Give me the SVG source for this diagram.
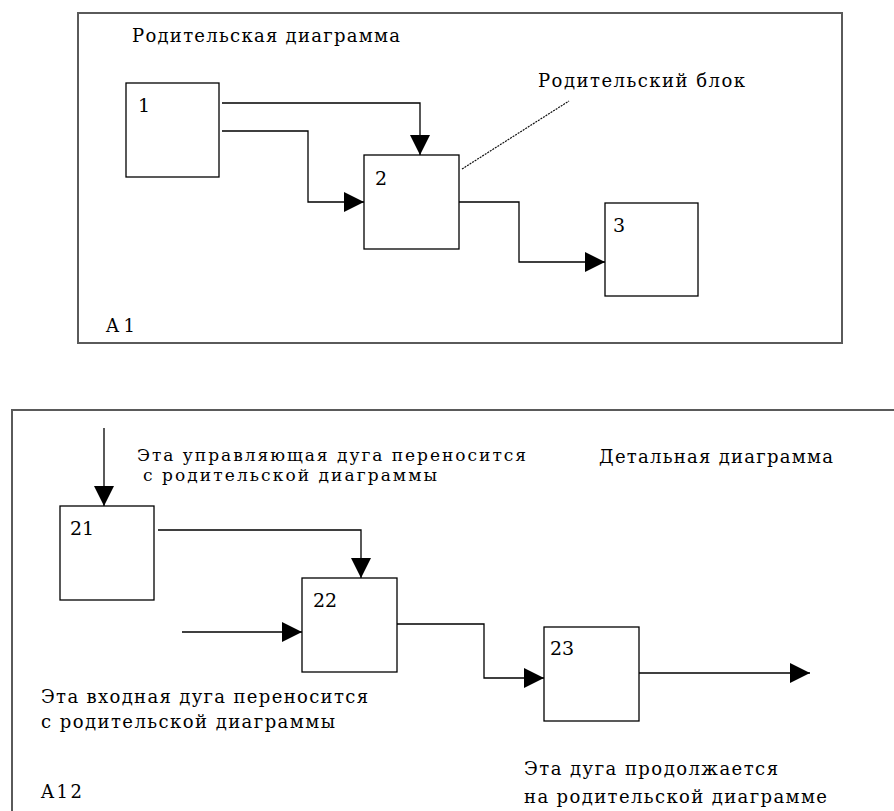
<svg xmlns="http://www.w3.org/2000/svg" width="894" height="811" viewBox="0 0 894 811">
<style>
.frame{fill:none;stroke:#5a5a5a;stroke-width:2}
.box{fill:#fff;stroke:#000;stroke-width:1.3}
.arc{fill:none;stroke:#000;stroke-width:1.3}
.lead{fill:none;stroke:#111;stroke-width:1.2;stroke-dasharray:2 1}
text{font-family:"DejaVu Serif","Liberation Serif",serif;font-size:18px;fill:#000}
.num{font-size:19px}
.tight{font-size:17px}
</style>
<defs>
<marker id="ah" viewBox="0 0 20 20" refX="20" refY="10" markerWidth="20" markerHeight="20" markerUnits="userSpaceOnUse" orient="auto">
<path d="M0,0 L20,10 L0,20 z" fill="#000"/>
</marker>
</defs>
<rect width="894" height="811" fill="#fff"/>
<g id="parent-frame">
<rect class="frame" x="78" y="13" width="764" height="330"/>
<text x="132" y="42" textLength="268" lengthAdjust="spacing">Родительская диаграмма</text>
<text x="106" y="332" textLength="29" lengthAdjust="spacing">A1</text>
<text x="538" y="87" textLength="207" lengthAdjust="spacing">Родительский блок</text>
</g>
<g id="detail-frame">
<path class="frame" d="M12,811 V410 H894"/>
<text x="599" y="463" textLength="234" lengthAdjust="spacing">Детальная диаграмма</text>
<text x="41" y="798" textLength="41" lengthAdjust="spacing">A12</text>
<text class="tight" x="137" y="461" textLength="389" lengthAdjust="spacing">Эта управляющая дуга переносится</text>
<text class="tight" x="143" y="481" textLength="294" lengthAdjust="spacing">с родительской диаграммы</text>
<text x="41" y="703" textLength="327" lengthAdjust="spacing">Эта входная дуга переносится</text>
<text x="41" y="728" textLength="294" lengthAdjust="spacing">с родительской диаграммы</text>
<text x="524" y="775" textLength="254" lengthAdjust="spacing">Эта дуга продолжается</text>
<text x="524" y="803" textLength="303" lengthAdjust="spacing">на родительской диаграмме</text>
</g>
<g id="connectors">
<path class="arc" d="M222,103 H420 V155" marker-end="url(#ah)"/>
<path class="arc" d="M222,131 H308 V202 H364" marker-end="url(#ah)"/>
<path class="arc" d="M459,202 H519 V262 H605" marker-end="url(#ah)"/>
<path class="lead" d="M462,169 L569,101"/>
<path class="arc" d="M104,428 V506" marker-end="url(#ah)"/>
<path class="arc" d="M158,530 H361 V578" marker-end="url(#ah)"/>
<path class="arc" d="M182,632 H302" marker-end="url(#ah)"/>
<path class="arc" d="M397,624 H484 V678 H544" marker-end="url(#ah)"/>
<path class="arc" d="M639,673 H810" marker-end="url(#ah)"/>
</g>
<g id="node-1">
<rect class="box" x="126" y="83" width="93" height="94"/>
<text class="num" x="138" y="112">1</text>
</g>
<g id="node-2">
<rect class="box" x="364" y="155" width="95" height="94"/>
<text class="num" x="375" y="185">2</text>
</g>
<g id="node-3">
<rect class="box" x="605" y="203" width="93" height="93"/>
<text class="num" x="613" y="232">3</text>
</g>
<g id="node-21">
<rect class="box" x="60" y="506" width="94" height="94"/>
<text class="num" x="70" y="535">21</text>
</g>
<g id="node-22">
<rect class="box" x="302" y="578" width="95" height="94"/>
<text class="num" x="313" y="607">22</text>
</g>
<g id="node-23">
<rect class="box" x="544" y="627" width="95" height="94"/>
<text class="num" x="550" y="655">23</text>
</g>
</svg>
